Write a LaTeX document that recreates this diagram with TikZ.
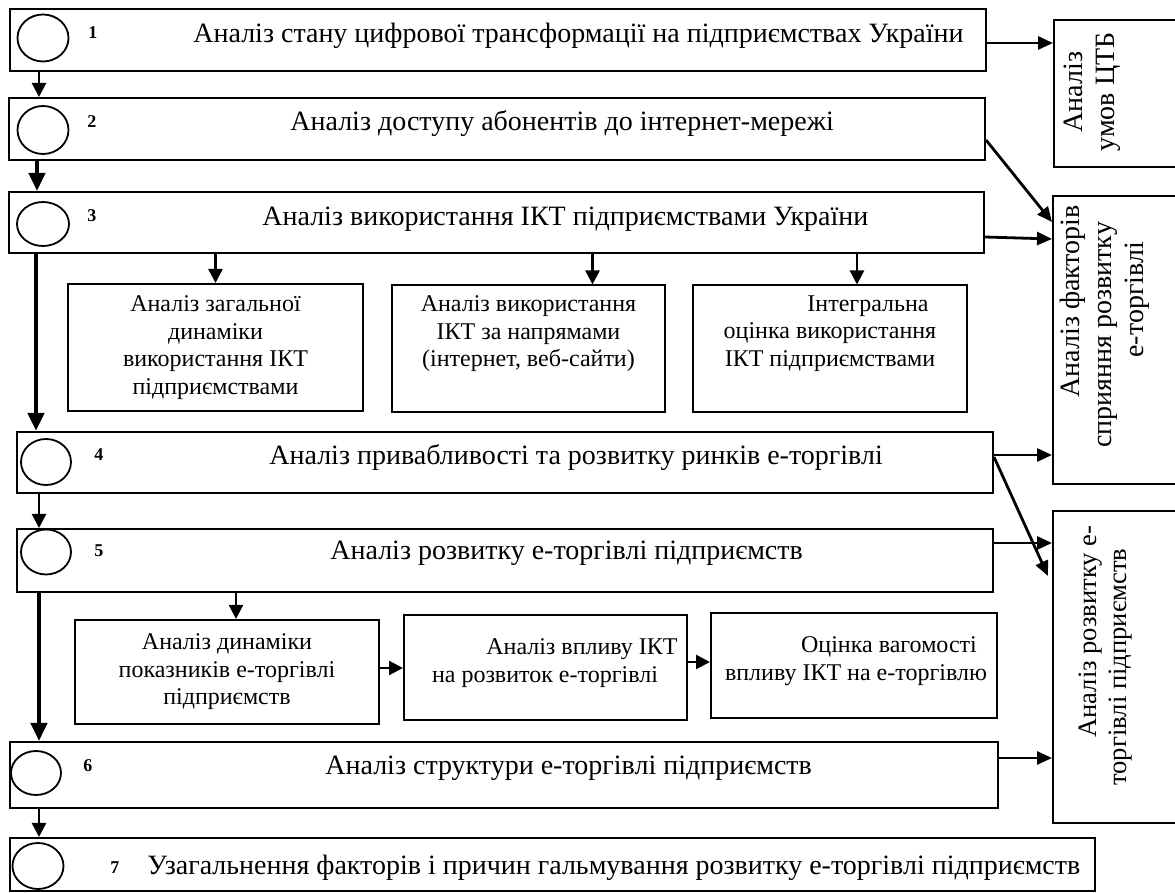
\documentclass[tikz,border=0pt]{standalone}
\usepackage{fontspec}
\setmainfont{Liberation Serif}
\usetikzlibrary{arrows.meta,shapes.geometric}
\begin{document}
\begin{tikzpicture}[x=0.5pt,y=-0.5pt,
  box/.style={draw,line width=1pt,inner sep=0pt,rectangle},
  oval/.style={draw,ellipse,line width=0.9pt,inner sep=0pt,minimum width=25.5pt,minimum height=23.5pt},
  num/.style={font=\fontsize{9}{10}\selectfont\bfseries,inner sep=0pt,anchor=base west},
  maintext/.style={font=\fontsize{14}{16}\selectfont,inner sep=0pt,anchor=base west},
  subfont/.style={font=\fontsize{12}{13.8}\selectfont},
  subbox/.style={box,align=center,subfont},
  sidetext/.style={font=\fontsize{14}{16}\selectfont,rotate=90,inner sep=0pt},
  arr/.style={line width=1.2pt,-{Triangle[length=7pt,width=7pt]}},
  bigarr/.style={line width=2.2pt,-{Triangle[length=9pt,width=8pt]}},
  sidearr/.style={line width=1.4pt,-{Triangle[length=7.5pt,width=6.5pt]}}]
\useasboundingbox (0,0) rectangle (1175,893);

% main stages
\node[box,minimum width=488pt,minimum height=31pt] (s1) at (498,40) {};
\node[box,minimum width=488pt,minimum height=31pt] (s2) at (497,129) {};
\node[box,minimum width=487.5pt,minimum height=30.5pt] (s3) at (496.5,222.5) {};
\node[box,minimum width=488pt,minimum height=30.5pt] (s4) at (505,462.5) {};
\node[box,minimum width=488pt,minimum height=31.5pt] (s5) at (505,560.5) {};
\node[box,minimum width=494pt,minimum height=33pt] (s6) at (504,775) {};
\node[box,minimum width=542.5pt,minimum height=26.5pt] (s7) at (552.5,864.5) {};

% ovals
\node[oval] (o1) at (43,38) {};
\node[oval,minimum height=24pt] (o2) at (43,130) {};
\node[oval,minimum width=26pt,minimum height=22pt] (o3) at (43,224) {};
\node[oval,minimum width=25pt,minimum height=23pt] (o4) at (46,462) {};
\node[oval,minimum width=25pt,minimum height=22.5pt] (o5) at (46,552) {};
\node[oval,minimum width=25pt,minimum height=22pt] (o6) at (36,773) {};
\node[oval,minimum width=25.5pt,minimum height=23pt] (o7) at (38,866) {};

% numbers
\node[num] (n1) at (88,39) {1};
\node[num] (n2) at (87,128) {2};
\node[num] (n3) at (87,222) {3};
\node[num] (n4) at (94,461) {4};
\node[num] (n5) at (94,557) {5};
\node[num] (n6) at (83,771) {6};
\node[num] (n7) at (110,874) {7};

% stage titles
\node[maintext] (t1) at (193,43) {Аналіз стану цифрової трансформації на підприємствах України};
\node[maintext] (t2) at (290,131) {Аналіз доступу абонентів до інтернет-мережі};
\node[maintext] (t3) at (262,226) {Аналіз використання ІКТ підприємствами України};
\node[maintext] (t4) at (269,465) {Аналіз привабливості та розвитку ринків е-торгівлі};
\node[maintext] (t5) at (330,560) {Аналіз розвитку е-торгівлі підприємств};
\node[maintext] (t6) at (325,775) {Аналіз структури е-торгівлі підприємств};
\node[maintext] (t7) at (147,875) {Узагальнення факторів і причин гальмування розвитку е-торгівлі підприємств};

% sub-stages
\node[subbox,minimum width=147.5pt,minimum height=63.5pt] (a) at (215.5,347.5)
  {Аналіз загальної\\динаміки\\використання ІКТ\\підприємствами};
\node[subbox,minimum width=136.5pt,minimum height=63.5pt] (b) at (528.5,349)
  {Аналіз використання\\ІКТ за напрямами\\(інтернет, веб-сайти)\\\strut};
\node[subbox,minimum width=137pt,minimum height=63.5pt] (c) at (830,349)
  {\hspace*{38pt}Інтегральна\\оцінка використання\\ІКТ підприємствами\\\strut};
\node[subbox,minimum width=152pt,minimum height=52pt] (d) at (227,672)
  {Аналіз динаміки\\показників е-торгівлі\\підприємств};
\node[box,minimum width=141.5pt,minimum height=52.5pt] (e) at (545.5,667.5) {};
\node[subfont,align=center,inner sep=0pt] (et) at (545,663)
  {\hspace*{37pt}Аналіз впливу ІКТ\\на розвиток е-торгівлі};
\node[box,minimum width=143pt,minimum height=52.5pt] (f) at (854,665.5) {};
\node[subfont,align=center,inner sep=0pt] (ft) at (856,661)
  {\hspace*{33pt}Оцінка вагомості\\впливу ІКТ на е-торгівлю};

% result blocks on the right
\node[box,minimum width=65.5pt,minimum height=73.5pt] (r1) at (1119.5,93.5) {};
\node[box,minimum width=66pt,minimum height=144pt] (r2) at (1119,340) {};
\node[box,minimum width=66pt,minimum height=156pt] (r3) at (1119,667) {};
\node[sidetext,align=center] (r1t) at (1092,92) {Аналіз\\умов ЦТБ};
\node[sidetext,align=left,anchor=north west] (r2t) at (1060,448)
  {\hspace*{25pt}Аналіз факторів\\сприяння розвитку\\\hspace*{45pt}е-торгівлі};
\node[sidetext,align=left,anchor=north west,font=\fontsize{13.3}{15.2}\selectfont] (r3t) at (1078,786)
  {\hspace*{24pt}Аналіз розвитку е-\\торгівлі підприємств};

% sequence of stages
\draw[arr] ([xshift=15pt]s1.south west) -- ([xshift=15.5pt]s2.north west);
\draw[bigarr,line width=2pt] ([xshift=14.5pt]s2.south west) -- ([xshift=14.5pt]s3.north west);
\draw[bigarr,line width=2.4pt] ([xshift=14pt]s3.south west) -- ([xshift=10pt]s4.north west);
\draw[arr] ([xshift=11.5pt]s4.south west) -- ([xshift=11.5pt]s5.north west);
\draw[bigarr,line width=2pt] ([xshift=11.5pt]s5.south west) -- ([xshift=15pt]s6.north west);
\draw[arr] ([xshift=15pt]s6.south west) -- ([xshift=15pt]s7.north west);

% branches to sub-stages
\draw[arr] (a.north |- s3.south) -- (a.north);
\draw[arr] ([xshift=32pt]b.north |- s3.south) -- ([xshift=32pt]b.north);
\draw[arr] ([xshift=13.5pt]c.north |- s3.south) -- ([xshift=13.5pt]c.north);
\draw[arr] ([xshift=4.5pt]d.north |- s5.south) -- ([xshift=4.5pt]d.north);
\draw[arr] ([yshift=2pt]d.east) -- ([yshift=2pt]d.east -| e.west);
\draw[arr] ([yshift=2.75pt]e.east) -- ([yshift=2.75pt]e.east -| f.west);

% links to the result blocks
\draw[sidearr] ([yshift=-1.5pt]s1.east) -- ([yshift=-1.5pt]s1.east -| r1.west);
\draw[sidearr] ([yshift=-5.5pt]s2.east) -- ([yshift=-13.5pt]r2.north west);
\draw[sidearr] ([yshift=-7.25pt]s3.east) -- ([yshift=-22pt]r2.north west);
\draw[sidearr] ([yshift=3.75pt]s4.east) -- ([yshift=3.75pt]s4.east -| r2.west);
\draw[sidearr] ([yshift=2.75pt]s4.east) -- ([xshift=-2pt,yshift=-33pt]r3.north west);
\draw[sidearr] ([yshift=8.75pt]s5.east) -- ([yshift=8.75pt]s5.east -| r3.west);
\draw[sidearr] ([yshift=8.5pt]s6.east) -- ([yshift=8.5pt]s6.east -| r3.west);
\end{tikzpicture}
\end{document}
